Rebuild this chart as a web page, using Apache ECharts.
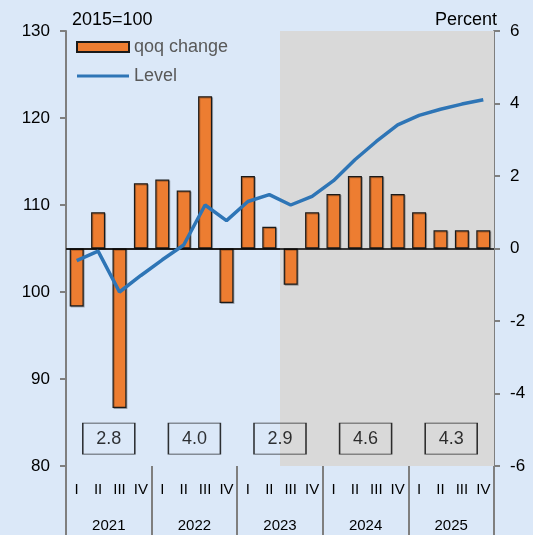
<!DOCTYPE html>
<html>
<head>
<meta charset="utf-8">
<script src="https://cdn.jsdelivr.net/npm/echarts@6/dist/echarts.min.js"></script>
<style>
  html, body { margin: 0; padding: 0; background: #DBE8F8; }
  #chart { width: 533px; height: 535px; }
</style>
</head>
<body>
<div id="chart"></div>
<script>
// 年份和季度
var years = ['2021', '2022', '2023', '2024', '2025'];
var quarters = ['I', 'II', 'III', 'IV'];

// 季度环比变化 (右轴, 百分比)
var qoqChange = [-1.6, 1.0, -4.4, 1.8, 1.9, 1.6, 4.2, -1.5, 2.0, 0.6,
                 -1.0, 1.0, 1.5, 2.0, 2.0, 1.5, 1.0, 0.5, 0.5, 0.5];

// 水平 (左轴, 2015=100)
var level = [103.6, 104.7, 100.0, 101.9, 103.7, 105.4, 110.0, 108.2, 110.4, 111.2,
             110.0, 111.0, 112.8, 115.2, 117.3, 119.2, 120.3, 121.0, 121.6, 122.1];

// 年增长率
var annualGrowth = [2.8, 4.0, 2.9, 4.6, 4.3];

// 预测区间起点
var forecastStart = '2023 III';

var categories = [];
years.forEach(function (y) {
    quarters.forEach(function (q) {
        categories.push(y + ' ' + q);
    });
});

var fontFamily = '"Liberation Sans", Arial, sans-serif';
var axisGrey = '#7F7F7F';
var boxY = 83.15;
// 图例里的线: 只画一条细横线
var lineIcon = 'path://M0,0 L0.01,0 L0,0.01 Z M0,3.6 L52,3.6 L52,6.4 L0,6.4 Z M0,10 L0.01,10 L0,9.99 Z';

var myChart = echarts.init(document.getElementById('chart'));
var option = {
    backgroundColor: '#DBE8F8',
    animation: false,
    textStyle: { fontFamily: fontFamily },
    grid: { left: 66, right: 39, top: 31, bottom: 69 },
    legend: {
        orient: 'vertical',
        left: 71,
        top: 33,
        itemWidth: 52,
        itemHeight: 10,
        itemGap: 11,
        textStyle: { fontSize: 18, color: '#595959', fontFamily: fontFamily },
        data: [
            { name: 'qoq change', icon: 'rect' },
            { name: 'Level', icon: lineIcon, itemStyle: { color: '#2E75B6', borderWidth: 0 } }
        ]
    },
    xAxis: [
        {
            type: 'category',
            data: categories,
            position: 'bottom',
            axisLine: { show: true, lineStyle: { color: axisGrey, width: 2 } },
            axisTick: { show: false },
            axisLabel: {
                interval: 0,
                margin: 16,
                fontSize: 15,
                color: '#000',
                formatter: function (v) { return v.split(' ')[1]; }
            }
        },
        {
            type: 'category',
            data: years,
            position: 'bottom',
            axisLine: { show: false },
            axisTick: { show: true, interval: 0, length: 69, lineStyle: { color: axisGrey, width: 2 } },
            axisLabel: { interval: 0, margin: 52, fontSize: 15, color: '#000' }
        }
    ],
    yAxis: [
        {
            type: 'value',
            min: 80,
            max: 130,
            interval: 10,
            position: 'left',
            name: '2015=100',
            nameLocation: 'end',
            nameGap: 2,
            nameTextStyle: { fontSize: 18, color: '#000', align: 'left', padding: [0, 0, 0, 6] },
            axisLine: { show: true, lineStyle: { color: axisGrey, width: 2 } },
            axisTick: { show: true, length: 6, lineStyle: { color: axisGrey, width: 2 } },
            axisLabel: { fontSize: 17, color: '#000', margin: 16 },
            splitLine: { show: false }
        },
        {
            type: 'value',
            min: -6,
            max: 6,
            interval: 2,
            position: 'right',
            name: 'Percent',
            nameLocation: 'end',
            nameGap: 2,
            nameTextStyle: { fontSize: 18, color: '#000', align: 'right', padding: [0, -3, 0, 0] },
            axisLine: { show: true, lineStyle: { color: axisGrey, width: 2 } },
            axisTick: { show: true, length: 6, lineStyle: { color: axisGrey, width: 2 } },
            axisLabel: { fontSize: 17, color: '#000', margin: 16 },
            splitLine: { show: false }
        }
    ],
    series: [
        {
            name: 'qoq change',
            type: 'bar',
            xAxisIndex: 0,
            yAxisIndex: 1,
            barWidth: 14,
            data: qoqChange,
            itemStyle: {
                color: '#ED7D31',
                borderColor: '#1a1a1a',
                borderWidth: 1.2,
                shadowColor: 'rgba(0,0,0,0.25)',
                shadowOffsetX: 1,
                shadowOffsetY: 1
            },
            markArea: {
                silent: true,
                itemStyle: { color: '#D9D9D9' },
                data: [[{ xAxis: forecastStart }, { xAxis: categories[categories.length - 1] }]]
            },
            markLine: {
                silent: true,
                symbol: 'none',
                label: { show: false },
                lineStyle: { color: '#000', width: 1.5, type: 'solid' },
                data: [{ yAxis: 0 }]
            },
            z: 3
        },
        {
            name: 'Level',
            type: 'line',
            xAxisIndex: 0,
            yAxisIndex: 0,
            data: level,
            symbol: 'none',
            lineStyle: { color: '#2E75B6', width: 3.5 },
            itemStyle: { color: '#2E75B6' },
            z: 5
        },
        {
            name: 'annual',
            type: 'scatter',
            xAxisIndex: 1,
            yAxisIndex: 0,
            symbol: 'rect',
            symbolSize: [52, 31],
            data: annualGrowth.map(function (v, i) { return [years[i], boxY, v]; }),
            itemStyle: { color: 'rgba(0,0,0,0)', borderColor: '#000', borderWidth: 1.2 },
            label: {
                show: true,
                position: 'inside',
                fontSize: 18,
                color: '#000',
                formatter: function (p) { return p.value[2].toFixed(1); }
            },
            z: 4
        }
    ]
};
myChart.setOption(option);
</script>
</body>
</html>
